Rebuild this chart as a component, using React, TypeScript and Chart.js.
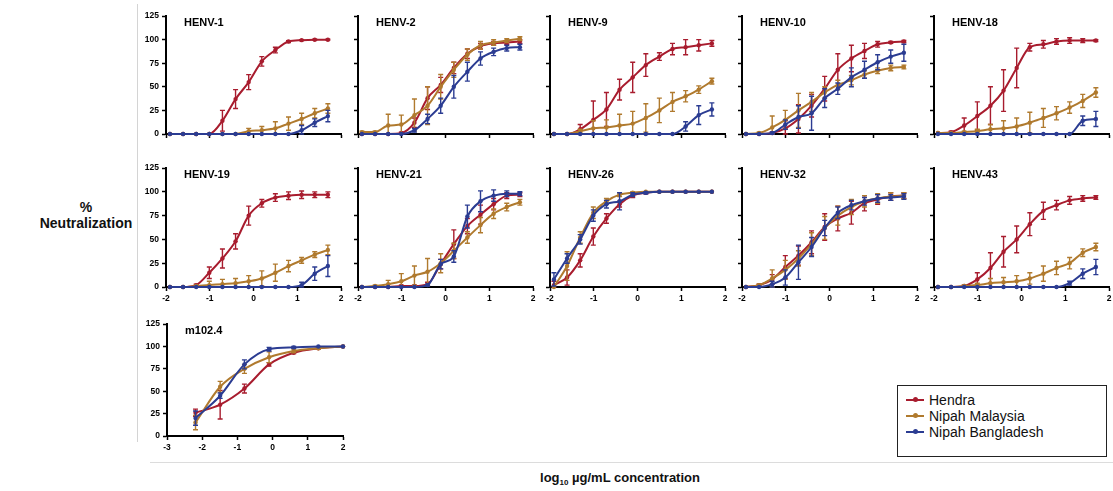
import React, { useEffect, useRef } from "react";
import { Chart, registerables } from "chart.js";
Chart.register(...registerables);

const SERIES_NAMES = ["Hendra", "Nipah Malaysia", "Nipah Bangladesh"];
const SERIES_COLORS = ["#a81c2e", "#b07a2e", "#2b3c92"];

const HENV_X = [-1.91, -1.61, -1.31, -1.01, -0.71, -0.41, -0.11, 0.19, 0.5, 0.8, 1.1, 1.4, 1.7];
const M102_X = [-2.19, -1.49, -0.8, -0.1, 0.6, 1.3, 2.0];

// HENV-1
const HENV1_H = [0, 0, 0, 0, 14, 37, 55, 77, 89, 98, 99.5, 100, 100];
const HENV1_H_ERR = [0, 0, 0, 0, 11, 10, 8, 5, 3, 1, 0.5, 0.5, 0.5];
const HENV1_M = [0, 0, 0, 0, 0, 0, 3, 4, 6, 11, 16, 22, 27];
const HENV1_M_ERR = [0, 0, 0, 0, 0, 0, 3, 4, 7, 7, 6, 5, 5];
const HENV1_B = [0, 0, 0, 0, 0, 0, 0, 0, 0, 0, 4, 12, 19];
const HENV1_B_ERR = [0, 0, 0, 0, 0, 0, 0, 0, 0, 0, 5, 4, 6];
// HENV-2
const HENV2_H = [0, 0, 0, 1, 12, 38, 52, 70, 85, 93, 96, 97, 98];
const HENV2_H_ERR = [0, 0, 0, 1, 5, 12, 8, 6, 5, 3, 2, 2, 2];
const HENV2_M = [2, 2, 9, 10, 20, 30, 50, 68, 84, 94, 97, 99, 101];
const HENV2_M_ERR = [1, 1, 12, 10, 17, 20, 13, 8, 6, 4, 3, 2, 2];
const HENV2_B = [0, 0, 0, 0, 4, 16, 30, 50, 66, 80, 87, 91, 92];
const HENV2_B_ERR = [0, 0, 0, 0, 2, 5, 8, 12, 10, 7, 4, 3, 3];
// HENV-9
const HENV9_H = [0, 0, 5, 15, 26, 47, 60, 73, 82, 90, 92, 94, 96];
const HENV9_H_ERR = [0, 0, 5, 20, 18, 11, 16, 12, 4, 6, 8, 6, 3];
const HENV9_M = [0, 0, 3, 6, 7, 9, 11, 17, 25, 34, 40, 47, 56];
const HENV9_M_ERR = [0, 0, 2, 8, 8, 12, 13, 15, 13, 10, 6, 4, 3];
const HENV9_B = [0, 0, 0, 0, 0, 0, 0, 0, 0, 0, 8, 20, 26];
const HENV9_B_ERR = [0, 0, 0, 0, 0, 0, 0, 0, 0, 0, 5, 10, 7];
// HENV-10
const HENV10_H = [0, 0, 1, 6, 16, 30, 48, 68, 80, 88, 95, 97, 98];
const HENV10_H_ERR = [0, 0, 1, 8, 15, 12, 13, 17, 14, 8, 3, 1, 1];
const HENV10_M = [0, 1, 7, 15, 25, 34, 44, 52, 57, 63, 67, 70, 71];
const HENV10_M_ERR = [0, 1, 12, 10, 18, 10, 6, 5, 5, 4, 3, 3, 2];
const HENV10_B = [0, 0, 1, 10, 18, 22, 38, 48, 60, 68, 76, 82, 86];
const HENV10_B_ERR = [0, 0, 1, 5, 12, 18, 10, 6, 10, 9, 8, 7, 9];
// HENV-18
const HENV18_H = [1, 2, 9, 19, 30, 46, 70, 92, 95, 98, 99, 99, 99];
const HENV18_H_ERR = [0, 1, 8, 15, 20, 22, 21, 4, 4, 3, 3, 2, 1];
const HENV18_M = [1, 1, 2, 3, 5, 6, 8, 12, 17, 22, 28, 35, 44];
const HENV18_M_ERR = [0, 0, 1, 2, 5, 8, 9, 11, 10, 7, 6, 7, 5];
const HENV18_B = [0, 0, 0, 0, 0, 0, 0, 0, 0, 0, 0, 14, 16];
const HENV18_B_ERR = [0, 0, 0, 0, 0, 0, 0, 0, 0, 0, 0, 5, 8];
// HENV-19
const HENV19_H = [0, 0, 2, 15, 30, 48, 75, 88, 94, 96, 97, 97, 97];
const HENV19_H_ERR = [0, 0, 1, 6, 10, 8, 10, 4, 4, 4, 4, 3, 3];
const HENV19_M = [0, 0, 1, 2, 3, 4, 6, 9, 15, 22, 28, 34, 39];
const HENV19_M_ERR = [0, 0, 1, 4, 5, 5, 6, 8, 9, 6, 3, 3, 5];
const HENV19_B = [0, 0, 0, 0, 0, 0, 0, 0, 0, 0, 2, 14, 22];
const HENV19_B_ERR = [0, 0, 0, 0, 0, 0, 0, 0, 0, 0, 3, 7, 11];
// HENV-21
const HENV21_H = [0, 0, 0, 1, 1, 3, 24, 45, 64, 76, 87, 96, 97];
const HENV21_H_ERR = [0, 0, 0, 1, 1, 2, 5, 15, 8, 10, 6, 3, 2];
const HENV21_M = [0, 1, 3, 6, 12, 16, 25, 38, 52, 65, 77, 84, 89];
const HENV21_M_ERR = [0, 1, 4, 8, 10, 14, 10, 8, 6, 8, 5, 4, 3];
const HENV21_B = [0, 0, 0, 0, 0, 2, 24, 32, 74, 90, 96, 98, 98];
const HENV21_B_ERR = [0, 0, 0, 0, 0, 1, 5, 6, 12, 11, 6, 3, 2];
// HENV-26
const HENV26_H = [2, 10, 28, 53, 72, 87, 96, 99, 100, 100, 100, 100, 100];
const HENV26_H_ERR = [4, 8, 7, 9, 5, 3, 2, 1, 0, 0, 0, 0, 0];
const HENV26_M = [0, 22, 52, 78, 90, 97, 99, 100, 100, 100, 100, 100, 100];
const HENV26_M_ERR = [0, 15, 6, 6, 3, 2, 1, 0, 0, 0, 0, 0, 0];
const HENV26_B = [8, 30, 50, 75, 87, 90, 97, 99, 100, 100, 100, 100, 100];
const HENV26_B_ERR = [7, 5, 5, 6, 4, 9, 2, 1, 0, 0, 0, 0, 0];
// HENV-32
const HENV32_H = [0, 2, 8, 21, 33, 47, 63, 72, 78, 88, 92, 95, 96];
const HENV32_H_ERR = [0, 1, 5, 12, 10, 12, 14, 13, 12, 8, 5, 4, 3];
const HENV32_M = [0, 2, 9, 18, 30, 45, 62, 75, 84, 90, 93, 95, 96];
const HENV32_M_ERR = [0, 1, 9, 10, 8, 12, 12, 10, 8, 6, 5, 4, 3];
const HENV32_B = [0, 0, 3, 10, 26, 42, 62, 78, 86, 90, 93, 94, 95];
const HENV32_B_ERR = [0, 0, 3, 8, 18, 10, 8, 6, 5, 4, 4, 3, 3];
// HENV-43
const HENV43_H = [0, 0, 1, 8, 20, 37, 50, 66, 80, 86, 91, 93, 94];
const HENV43_H_ERR = [0, 0, 1, 7, 16, 16, 14, 12, 9, 5, 4, 3, 2];
const HENV43_M = [0, 0, 1, 2, 4, 5, 6, 9, 14, 20, 25, 36, 42];
const HENV43_M_ERR = [0, 0, 1, 2, 5, 5, 6, 6, 8, 7, 6, 4, 4];
const HENV43_B = [0, 0, 0, 0, 0, 0, 0, 0, 0, 0, 4, 14, 21];
const HENV43_B_ERR = [0, 0, 0, 0, 0, 0, 0, 0, 0, 0, 2, 5, 8];
// m102.4
const M102_H = [26, 35, 53, 80, 93, 98, 100];
const M102_H_ERR = [4, 16, 5, 2, 1, 1, 0];
const M102_M = [15, 55, 75, 88, 95, 98, 100];
const M102_M_ERR = [8, 6, 5, 6, 2, 1, 0];
const M102_B = [20, 45, 80, 97, 99, 100, 100];
const M102_B_ERR = [8, 3, 5, 2, 1, 0, 0];

const COL_X = [166, 358, 550, 742, 934];
const ROW_TOP = [16, 168, 324];
const ROW_H = [118, 119, 112];
const PLOT_W = 175;

type Panel = {
  name: string; x: number[]; xMin: number; xMax: number;
  row: number; col: number; xLabels: boolean; yLabels: boolean;
  series: number[][]; errors: number[][];
};

const PANELS: Panel[] = [
  { name: "HENV-1", x: HENV_X, xMin: -2, xMax: 2, row: 0, col: 0, xLabels: false, yLabels: true, series: [HENV1_H, HENV1_M, HENV1_B], errors: [HENV1_H_ERR, HENV1_M_ERR, HENV1_B_ERR] },
  { name: "HENV-2", x: HENV_X, xMin: -2, xMax: 2, row: 0, col: 1, xLabels: false, yLabels: false, series: [HENV2_H, HENV2_M, HENV2_B], errors: [HENV2_H_ERR, HENV2_M_ERR, HENV2_B_ERR] },
  { name: "HENV-9", x: HENV_X, xMin: -2, xMax: 2, row: 0, col: 2, xLabels: false, yLabels: false, series: [HENV9_H, HENV9_M, HENV9_B], errors: [HENV9_H_ERR, HENV9_M_ERR, HENV9_B_ERR] },
  { name: "HENV-10", x: HENV_X, xMin: -2, xMax: 2, row: 0, col: 3, xLabels: false, yLabels: false, series: [HENV10_H, HENV10_M, HENV10_B], errors: [HENV10_H_ERR, HENV10_M_ERR, HENV10_B_ERR] },
  { name: "HENV-18", x: HENV_X, xMin: -2, xMax: 2, row: 0, col: 4, xLabels: false, yLabels: false, series: [HENV18_H, HENV18_M, HENV18_B], errors: [HENV18_H_ERR, HENV18_M_ERR, HENV18_B_ERR] },
  { name: "HENV-19", x: HENV_X, xMin: -2, xMax: 2, row: 1, col: 0, xLabels: true, yLabels: true, series: [HENV19_H, HENV19_M, HENV19_B], errors: [HENV19_H_ERR, HENV19_M_ERR, HENV19_B_ERR] },
  { name: "HENV-21", x: HENV_X, xMin: -2, xMax: 2, row: 1, col: 1, xLabels: true, yLabels: false, series: [HENV21_H, HENV21_M, HENV21_B], errors: [HENV21_H_ERR, HENV21_M_ERR, HENV21_B_ERR] },
  { name: "HENV-26", x: HENV_X, xMin: -2, xMax: 2, row: 1, col: 2, xLabels: true, yLabels: false, series: [HENV26_H, HENV26_M, HENV26_B], errors: [HENV26_H_ERR, HENV26_M_ERR, HENV26_B_ERR] },
  { name: "HENV-32", x: HENV_X, xMin: -2, xMax: 2, row: 1, col: 3, xLabels: true, yLabels: false, series: [HENV32_H, HENV32_M, HENV32_B], errors: [HENV32_H_ERR, HENV32_M_ERR, HENV32_B_ERR] },
  { name: "HENV-43", x: HENV_X, xMin: -2, xMax: 2, row: 1, col: 4, xLabels: true, yLabels: false, series: [HENV43_H, HENV43_M, HENV43_B], errors: [HENV43_H_ERR, HENV43_M_ERR, HENV43_B_ERR] },
  { name: "m102.4", x: M102_X, xMin: -3, xMax: 2, row: 2, col: 0, xLabels: true, yLabels: true, series: [M102_H, M102_M, M102_B], errors: [M102_H_ERR, M102_M_ERR, M102_B_ERR] },
];

const FONT = "'Liberation Sans', Arial, Helvetica, sans-serif";
const Y_AXIS_W = 30;
const PAD_TOP = 8;
const X_AXIS_H = 18;
const PAD_RIGHT = 10;
const PAD_BOTTOM = 2;

const errorBarPlugin = {
  id: "errorBars",
  afterDatasetDraw(chart: any, args: any) {
    const ds: any = chart.data.datasets[args.index];
    const errs: number[] = ds.errors;
    if (!errs) return;
    const xs = chart.scales.x, ys = chart.scales.y;
    const ctx = chart.ctx;
    ctx.save();
    ctx.strokeStyle = ds.borderColor;
    ctx.lineWidth = 1.4;
    ds.data.forEach((p: any, i: number) => {
      const e = errs[i];
      if (!e) return;
      const px = xs.getPixelForValue(p.x);
      const top = ys.getPixelForValue(Math.min(p.y + e, 125));
      const bot = ys.getPixelForValue(Math.max(p.y - e, 0));
      ctx.beginPath();
      ctx.moveTo(px, top); ctx.lineTo(px, bot);
      ctx.moveTo(px - 2.5, top); ctx.lineTo(px + 2.5, top);
      ctx.moveTo(px - 2.5, bot); ctx.lineTo(px + 2.5, bot);
      ctx.stroke();
    });
    ctx.restore();
  },
};

const panelTitlePlugin = {
  id: "panelTitle",
  afterDraw(chart: any) {
    const title = chart.options.plugins.panelTitle?.text;
    if (!title) return;
    const ctx = chart.ctx;
    ctx.save();
    ctx.fillStyle = "#000";
    ctx.font = `bold 11px ${FONT}`;
    ctx.textBaseline = "middle";
    ctx.textAlign = "left";
    ctx.fillText(title, chart.chartArea.left + 18, chart.chartArea.top + 7);
    ctx.restore();
  },
};

function PanelChart({ p }: { p: Panel }) {
  const ref = useRef<HTMLCanvasElement | null>(null);
  const plotH = ROW_H[p.row];
  const plotW = p.row === 2 ? 176 : PLOT_W;
  const width = Y_AXIS_W + plotW + PAD_RIGHT;
  const height = PAD_TOP + plotH + X_AXIS_H + PAD_BOTTOM;
  const left = COL_X[p.col] + (p.row === 2 ? 1 : 0) - Y_AXIS_W;
  const top = ROW_TOP[p.row] - PAD_TOP;

  useEffect(() => {
    if (!ref.current) return;
    const order = [2, 1, 0];
    const datasets = order.map((si) => ({
      label: SERIES_NAMES[si],
      data: p.x.map((xv, i) => ({ x: xv, y: p.series[si][i] })),
      errors: p.errors[si],
      borderColor: SERIES_COLORS[si],
      backgroundColor: SERIES_COLORS[si],
      borderWidth: 2,
      pointRadius: 2.2,
      pointBorderWidth: 0,
      pointHoverRadius: 2.2,
      cubicInterpolationMode: "monotone" as const,
      tension: 0.4,
      clip: false as any,
    }));
    const tickFont = { family: FONT, size: 8.5, weight: "bold" as const };
    const chart = new Chart(ref.current, {
      type: "line",
      data: { datasets: datasets as any },
      options: {
        animation: false,
        responsive: false,
        devicePixelRatio: 1,
        layout: { padding: { top: PAD_TOP, right: PAD_RIGHT, bottom: PAD_BOTTOM, left: 0 } },
        plugins: {
          legend: { display: false },
          tooltip: { enabled: false },
          panelTitle: { text: p.name },
        } as any,
        scales: {
          x: {
            type: "linear",
            min: p.xMin,
            max: p.xMax,
            ticks: {
              display: p.xLabels,
              stepSize: 1,
              color: "#000",
              font: tickFont,
              padding: 3,
              maxRotation: 0,
              autoSkip: false,
              callback: (v: any) => String(v),
            },
            grid: { display: true, drawOnChartArea: false, drawTicks: true, tickLength: 4, tickColor: "#000", tickWidth: 1.5 },
            border: { display: true, color: "#000", width: 2 },
            afterFit: (s: any) => { s.height = X_AXIS_H; },
          },
          y: {
            type: "linear",
            min: 0,
            max: 125,
            ticks: {
              display: p.yLabels,
              stepSize: 25,
              color: "#000",
              font: tickFont,
              padding: 3,
              autoSkip: false,
            },
            grid: { display: true, drawOnChartArea: false, drawTicks: true, tickLength: 4, tickColor: "#000", tickWidth: 1.5 },
            border: { display: true, color: "#000", width: 2 },
            afterFit: (s: any) => { s.width = Y_AXIS_W; },
          },
        },
      },
      plugins: [errorBarPlugin, panelTitlePlugin],
    });
    return () => chart.destroy();
  }, []);

  return (
    <canvas
      ref={ref}
      width={width}
      height={height}
      style={{ position: "absolute", left, top, width, height }}
    />
  );
}

export default function App() {
  return (
    <div
      style={{
        position: "absolute", left: 0, top: 0, width: 1113, height: 491,
        overflow: "hidden", background: "#fff", fontFamily: FONT,
      }}
    >
      <div style={{ position: "absolute", left: 137, top: 4, width: 1, height: 438, background: "#d4d4d4" }} />
      <div style={{ position: "absolute", left: 150, top: 462, width: 963, height: 1, background: "#dcdcdc" }} />
      <div
        style={{
          position: "absolute", left: 26, top: 199, width: 120, textAlign: "center",
          fontWeight: "bold", fontSize: 14, lineHeight: "16px", color: "#111",
        }}
      >
        %<br />Neutralization
      </div>
      <div
        style={{
          position: "absolute", left: 420, top: 470, width: 400, textAlign: "center",
          fontWeight: "bold", fontSize: 13, lineHeight: "16px", color: "#111",
        }}
      >
        log<sub style={{ fontSize: 8, verticalAlign: "-3px" }}>10</sub> µg/mL concentration
      </div>
      {PANELS.map((p) => (
        <PanelChart key={p.name} p={p} />
      ))}
      <div
        style={{
          position: "absolute", left: 897, top: 385, width: 210, height: 72,
          border: "1.5px solid #222", boxSizing: "border-box",
        }}
      >
        {SERIES_NAMES.map((n, i) => (
          <div key={n} style={{ position: "absolute", left: 8, top: 6 + i * 16, height: 16, display: "flex", alignItems: "center" }}>
            <div style={{ position: "relative", width: 18, height: 2, background: SERIES_COLORS[i] }}>
              <div style={{ position: "absolute", left: 6.5, top: -2, width: 5, height: 5, borderRadius: 3, background: SERIES_COLORS[i] }} />
            </div>
            <span style={{ marginLeft: 5, fontSize: 14, color: "#111", lineHeight: "16px" }}>{n}</span>
          </div>
        ))}
      </div>
    </div>
  );
}
